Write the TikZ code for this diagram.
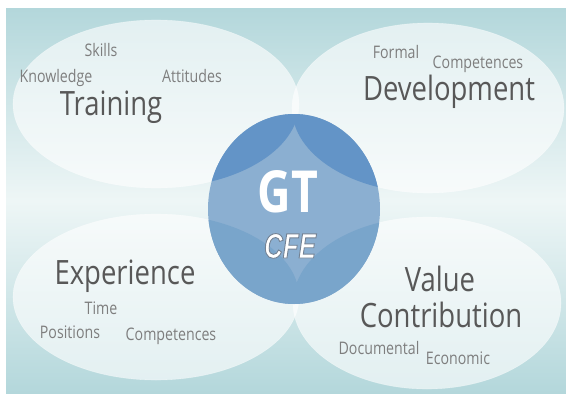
\documentclass[tikz,border=0pt]{standalone}
\usepackage{fontspec}
\setmainfont{Open Sans}[FakeStretch=0.82]
\newfontfamily\gtfont{Open Sans}[FakeStretch=0.8]
\newfontfamily\cfefont{Liberation Sans}[FakeStretch=0.74]
\definecolor{bgteal}{HTML}{B3D7DB}
\definecolor{bglight}{HTML}{EEF6F6}
\definecolor{bigtxt}{HTML}{585858}
\definecolor{smalltxt}{HTML}{7E7E7E}
\definecolor{circband}{HTML}{8BAFD1}
\definecolor{lenstop}{HTML}{6394C7}
\definecolor{lensbot}{HTML}{79A5CB}
\newcommand{\outlinedword}[1]{\special{pdf:code 2 Tr 0.9 w 0.45 0.51 0.58 RG 1 1 1 rg}#1\special{pdf:code 0 Tr}}
\tikzset{
  bigword/.style={anchor=base, text=bigtxt, font=\fontsize{33.5}{36}\selectfont, inner sep=0pt},
  smallword/.style={anchor=base, text=smalltxt, font=\fontsize{17.3}{19}\selectfont, inner sep=0pt},
  petal/.style={fill=white, fill opacity=0.62, draw=white, draw opacity=0.35, line width=0.6pt},
  cfestyle/.style={anchor=base, inner sep=0pt, text=white, font=\fontsize{35}{38}\cfefont\bfseries\itshape},
}
\begin{document}
\begin{tikzpicture}[x=1pt,y=-1pt]
\useasboundingbox (0,0) rectangle (566,394);
\fill[white] (0,0) rectangle (566,394);
\shade[top color=bgteal, bottom color=bgteal, middle color=bglight] (6,8) rectangle (566,394);
% petals
\path[petal] (156,104) ellipse [x radius=143, y radius=84];
\path[petal] (428,108) ellipse [x radius=136, y radius=85];
\path[petal] (156,297) ellipse [x radius=143, y radius=83];
\path[petal] (427,303) ellipse [x radius=134, y radius=86];
% central circle
\fill[circband] (294,209) ellipse [x radius=86, y radius=95];
\begin{scope}
  \clip (294,209) ellipse [x radius=86, y radius=95];
  \fill[lenstop] (156,104) ellipse [x radius=143, y radius=84];
  \fill[lenstop] (428,108) ellipse [x radius=136, y radius=85];
  \fill[lensbot] (156,297) ellipse [x radius=143, y radius=83];
  \fill[lensbot] (427,303) ellipse [x radius=134, y radius=86];
\end{scope}
% Training
\node[smallword] (skills) at (101,56) {Skills};
\node[smallword] (knowledge) at (56,82) {Knowledge};
\node[smallword] (attitudes) at (192,82) {Attitudes};
\node[bigword] (training) at (111,115) {Training};
% Development
\node[smallword] (formal) at (396,58) {Formal};
\node[smallword] (compdev) at (478,68) {Competences};
\node[bigword] (development) at (449,100) {Development};
% Experience
\node[bigword] (experience) at (125,284) {Experience};
\node[smallword] (time) at (101,314) {Time};
\node[smallword] (positions) at (70,338) {Positions};
\node[smallword] (compexp) at (171,340) {Competences};
% Value Contribution
\node[bigword] (value) at (440,291) {Value};
\node[bigword] (contribution) at (441,327) {Contribution};
\node[smallword] (documental) at (379,354) {Documental};
\node[smallword] (economic) at (458,364) {Economic};
% GT CFE
\node[anchor=base, text=white, inner sep=0pt, font=\fontsize{58}{60}\gtfont\bfseries] (gt) at (288,212) {GT};
\node[cfestyle] (cfe) at (290,258) {\outlinedword{CFE}};
\end{tikzpicture}
\end{document}
